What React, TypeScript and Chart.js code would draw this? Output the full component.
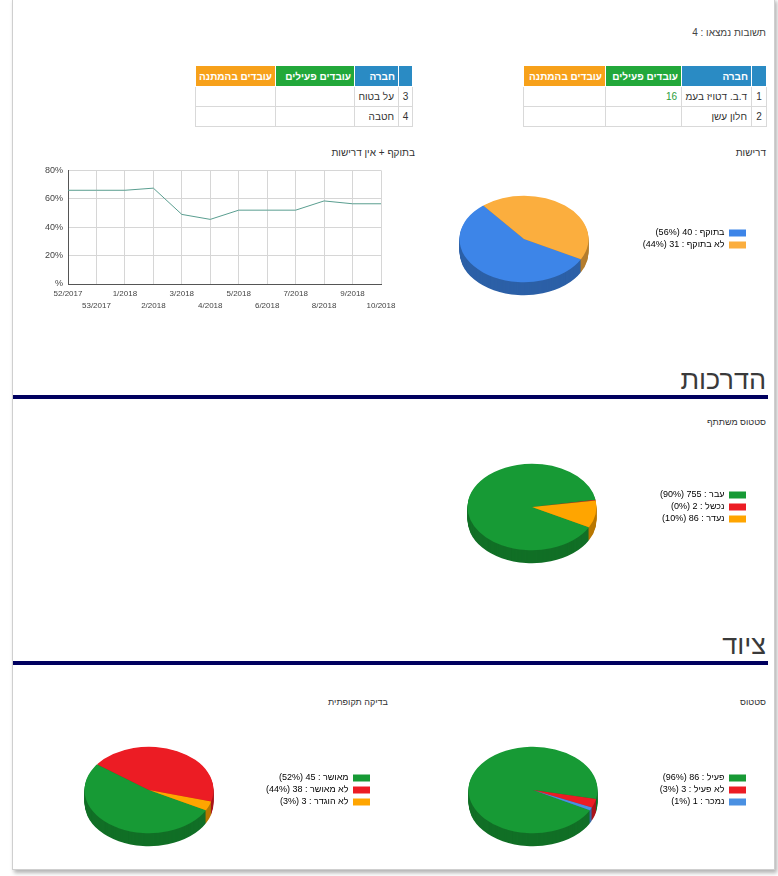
import React, { useEffect, useRef } from 'react';
import { Chart, registerables } from 'chart.js';

Chart.register(...registerables);

const FONT = '"Liberation Sans", Arial, "DejaVu Sans", sans-serif';

// ---------------- data ----------------
const answersFoundText = 'תשובות נמצאו : 4';
const headerLabels = ['חברה', 'עובדים פעילים', 'עובדים בהמתנה'];
const rightTableNums = [1, 2];
const rightTableCompanies = ['ד.ב. דטויז בעמ', 'חלון עשן'];
const rightTableActive = ['16', ''];
const rightTableWaiting = ['', ''];
const leftTableNums = [3, 4];
const leftTableCompanies = ['על בטוח', 'חטבה'];
const leftTableActive = ['', ''];
const leftTableWaiting = ['', ''];

const lineTitle = 'בתוקף + אין דרישות';
const weekLabels = ['52/2017', '53/2017', '1/2018', '2/2018', '3/2018', '4/2018', '5/2018', '6/2018', '7/2018', '8/2018', '9/2018', '10/2018'];
const validPercent = [66, 66, 66, 67.5, 49, 45.5, 52, 52, 52, 58.5, 56.5, 56.5];
const yTickLabels = ['%', '20%', '40%', '60%', '80%'];

const demandsTitle = 'דרישות';
const demandsLabels = ['בתוקף', 'לא בתוקף'];
const demandsValues = [40, 31];
const demandsColors = ['#3d85e8', '#fbae3e'];

const trainingHeading = 'הדרכות';
const trainingTitle = 'סטטוס משתתף';
const trainingLabels = ['עבר', 'נכשל', 'נעדר'];
const trainingValues = [755, 2, 86];
const trainingColors = ['#179a35', '#ec1c24', '#ffa500'];

const equipmentHeading = 'ציוד';
const statusTitle = 'סטטוס';
const statusLabels = ['פעיל', 'לא פעיל', 'נמכר'];
const statusValues = [86, 3, 1];
const statusColors = ['#179a35', '#ec1c24', '#4a90e2'];

const inspectionTitle = 'בדיקה תקופתית';
const inspectionLabels = ['מאושר', 'לא מאושר', 'לא הוגדר'];
const inspectionValues = [45, 38, 3];
const inspectionColors = ['#179a35', '#ec1c24', '#ffa500'];

// ---------------- helpers ----------------
const LEG_FS = 9;
const LEG_BOX = 17;
const LEG_BOXH = 7;
const LEG_PAD = 3;

function shade(hex: string, f: number) {
  const n = parseInt(hex.slice(1), 16);
  const r = Math.round(((n >> 16) & 255) * f);
  const g = Math.round(((n >> 8) & 255) * f);
  const b = Math.round((n & 255) * f);
  return `rgb(${r},${g},${b})`;
}

function measureMax(texts: string[], font: string) {
  const c = document.createElement('canvas').getContext('2d')!;
  c.font = font;
  return Math.max(...texts.map((t) => c.measureText(t).width));
}

const pie3d = {
  id: 'pie3d',
  beforeDatasetsDraw(chart: any, _args: any, opts: any) {
    const meta = chart.getDatasetMeta(0);
    const arcs = meta.data as any[];
    const ctx = chart.ctx as CanvasRenderingContext2D;
    ctx.save();
    if (!arcs.length) return;
    const cx = arcs[0].x;
    const cy = arcs[0].y;
    const k = opts.tilt;
    for (let d = opts.depth; d >= 1; d--) {
      arcs.forEach((arc: any, i: number) => {
        ctx.save();
        ctx.translate(cx, cy + d);
        ctx.scale(1, k);
        ctx.beginPath();
        ctx.moveTo(0, 0);
        ctx.arc(0, 0, arc.outerRadius, arc.startAngle, arc.endAngle);
        ctx.closePath();
        ctx.fillStyle = opts.sideColors[i];
        ctx.fill();
        ctx.restore();
      });
    }
    ctx.translate(cx, cy);
    ctx.scale(1, k);
    ctx.translate(-cx, -cy);
  },
  afterDatasetsDraw(chart: any) {
    chart.ctx.restore();
  },
};

type PieProps = {
  left: number;
  cy: number;
  cx: number;
  boxRight: number;
  labels: string[];
  values: number[];
  colors: string[];
};

function Pie3D({ left, cy, cx, boxRight, labels, values, colors }: PieProps) {
  const ref = useRef<HTMLCanvasElement>(null);
  const height = 140;
  const top = cy - height / 2;
  const total = values.reduce((a, b) => a + b, 0);
  const texts = labels.map((l, i) => `${l} : ${values[i]} (${Math.round((values[i] / total) * 100)}%)`);
  const textW = measureMax(texts, `${LEG_FS}px ${FONT}`);
  const legendRight = boxRight + LEG_PAD;
  const padR = 6;
  const width = Math.round(legendRight + padR - left);
  const legendWidth = LEG_PAD + LEG_BOX + LEG_FS / 2 + textW + 10;
  const legendLeftC = legendRight - left - legendWidth;
  const padL = Math.max(0, 2 * (cx - left) - legendLeftC);

  useEffect(() => {
    const chart = new Chart(ref.current!, {
      type: 'pie',
      data: {
        labels,
        datasets: [{ data: values, backgroundColor: colors, borderWidth: 0, clip: false } as any],
      },
      options: {
        responsive: false,
        animation: false,
        events: [],
        radius: 64.5,
        rotation: 118,
        layout: { padding: { left: padL, right: width - (legendRight - left), top: 0, bottom: 0 } },
        plugins: {
          legend: {
            position: 'right',
            rtl: true,
            textDirection: 'rtl',
            labels: {
              boxWidth: LEG_BOX,
              boxHeight: LEG_BOXH,
              padding: LEG_PAD,
              color: '#2a2a2a',
              font: { size: LEG_FS, family: FONT },
              generateLabels: () =>
                texts.map((t, i) => ({
                  text: t,
                  fillStyle: colors[i],
                  strokeStyle: colors[i],
                  lineWidth: 0,
                  hidden: false,
                  index: i,
                  datasetIndex: 0,
                })),
            },
          },
          tooltip: { enabled: false },
          pie3d: { tilt: 0.67, depth: 13, sideColors: colors.map((c) => shade(c, 0.72)) },
        } as any,
      } as any,
      plugins: [pie3d as any],
    });
    return () => chart.destroy();
  }, []);

  return (
    <canvas
      ref={ref}
      width={width}
      height={height}
      style={{ position: 'absolute', left, top, width, height }}
    />
  );
}

function LineChart() {
  const ref = useRef<HTMLCanvasElement>(null);
  useEffect(() => {
    const chart = new Chart(ref.current!, {
      type: 'line',
      data: {
        labels: weekLabels,
        datasets: [
          {
            data: validPercent,
            borderColor: '#5a9e90',
            borderWidth: 1,
            pointRadius: 0,
            tension: 0,
            fill: false,
          },
        ],
      },
      options: {
        responsive: false,
        animation: false,
        events: [],
        layout: { padding: { left: 0, right: 19, top: 10, bottom: 0 } },
        plugins: { legend: { display: false }, tooltip: { enabled: false } },
        scales: {
          x: {
            offset: false,
            grid: { color: '#d6d6d6', drawTicks: false },
            border: { color: '#555' },
            ticks: {
              autoSkip: false,
              maxRotation: 0,
              padding: 3,
              color: '#444',
              font: { size: 8, family: FONT, lineHeight: 1.6 },
              callback: (_v: any, i: number) => (i % 2 === 0 ? [weekLabels[i], ''] : ['', weekLabels[i]]),
            },
            afterFit: (s: any) => {
              s.height = 36;
            },
          },
          y: {
            min: 0,
            max: 80,
            grid: { color: '#d6d6d6', drawTicks: false },
            border: { color: '#555' },
            ticks: {
              stepSize: 20,
              padding: 5,
              color: '#444',
              font: { size: 9, family: FONT },
              callback: (_v: any, i: number) => yTickLabels[i],
            },
            afterFit: (s: any) => {
              s.width = 48;
            },
          },
        },
      } as any,
    });
    return () => chart.destroy();
  }, []);
  return (
    <canvas
      ref={ref}
      width={380}
      height={160}
      style={{ position: 'absolute', left: 20, top: 160, width: 380, height: 160 }}
    />
  );
}

const BLUE = '#2a8bc4';
const GREEN = '#22a83a';
const ORANGE = '#f7a11a';

type TableProps = {
  left: number;
  top: number;
  widths: number[];
  nums: number[];
  companies: string[];
  active: string[];
  waiting: string[];
};

function CompanyTable({ left, top, widths, nums, companies, active, waiting }: TableProps) {
  const total = widths.reduce((a, b) => a + b, 0);
  const th: React.CSSProperties = {
    color: '#fff',
    fontWeight: 'bold',
    fontSize: 10,
    textAlign: 'right',
    padding: '0 3px',
    border: '1px solid #fff',
    whiteSpace: 'nowrap',
    overflow: 'hidden',
  };
  const td: React.CSSProperties = {
    border: '1px solid #d9d9d9',
    padding: '0 4px',
    textAlign: 'right',
    whiteSpace: 'nowrap',
    overflow: 'hidden',
  };
  const headBgs = [BLUE, BLUE, GREEN, ORANGE];
  const headTexts = ['', ...headerLabels];
  return (
    <table
      style={{
        position: 'absolute',
        left,
        top,
        width: total,
        borderCollapse: 'collapse',
        tableLayout: 'fixed',
        direction: 'rtl',
        fontFamily: FONT,
        fontSize: 10,
        color: '#333',
      }}
    >
      <colgroup>
        {widths.map((w, i) => (
          <col key={i} style={{ width: w }} />
        ))}
      </colgroup>
      <thead>
        <tr style={{ height: 21 }}>
          {headTexts.map((t, i) => (
            <th key={i} style={{ ...th, background: headBgs[i] }}>
              {t}
            </th>
          ))}
        </tr>
      </thead>
      <tbody>
        {nums.map((n, i) => (
          <tr key={i} style={{ height: 20 }}>
            <td style={{ ...td, textAlign: 'center', padding: 0 }}>{n}</td>
            <td style={td}>{companies[i]}</td>
            <td style={{ ...td, color: '#2a9d3a' }}>{active[i]}</td>
            <td style={td}>{waiting[i]}</td>
          </tr>
        ))}
      </tbody>
    </table>
  );
}

function RText({ right, top, size, text, color = '#333' }: { right: number; top: number; size: number; text: string; color?: string }) {
  return (
    <div
      style={{
        position: 'absolute',
        right: 778 - right,
        top,
        fontSize: size,
        lineHeight: 1,
        color,
        whiteSpace: 'nowrap',
        direction: 'rtl',
        fontFamily: FONT,
      }}
    >
      {text}
    </div>
  );
}

export default function App() {
  return (
    <div
      style={{
        position: 'absolute',
        left: 0,
        top: 0,
        width: 778,
        height: 876,
        overflow: 'hidden',
        background: '#fff',
        fontFamily: FONT,
      }}
    >
      <div
        style={{
          position: 'absolute',
          left: 12,
          top: -2,
          width: 761,
          height: 870,
          border: '1px solid #cfcfcf',
          boxShadow: '2px 3px 4px rgba(0,0,0,0.3)',
          background: '#fff',
        }}
      />
      <RText right={766} top={28} size={10} text={answersFoundText} color="#444" />

      <CompanyTable
        left={523}
        top={65}
        widths={[15, 70, 76, 82]}
        nums={rightTableNums}
        companies={rightTableCompanies}
        active={rightTableActive}
        waiting={rightTableWaiting}
      />
      <CompanyTable
        left={195}
        top={65}
        widths={[14, 44, 79, 80]}
        nums={leftTableNums}
        companies={leftTableCompanies}
        active={leftTableActive}
        waiting={leftTableWaiting}
      />

      <RText right={766} top={148} size={10} text={demandsTitle} />
      <RText right={415} top={148} size={10} text={lineTitle} />
      <LineChart />
      <Pie3D left={380} cx={524} cy={239} boxRight={746} labels={demandsLabels} values={demandsValues} colors={demandsColors} />

      <RText right={766} top={367} size={27} text={trainingHeading} color="#3a3a3a" />
      <div style={{ position: 'absolute', left: 13, top: 395, width: 755, height: 4, background: '#00005f' }} />
      <RText right={766} top={418} size={9} text={trainingTitle} />
      <Pie3D left={380} cx={532} cy={507} boxRight={746} labels={trainingLabels} values={trainingValues} colors={trainingColors} />

      <RText right={766} top={632} size={27} text={equipmentHeading} color="#3a3a3a" />
      <div style={{ position: 'absolute', left: 13, top: 661, width: 755, height: 4, background: '#00005f' }} />
      <RText right={766} top={698} size={9} text={statusTitle} />
      <RText right={388} top={698} size={9} text={inspectionTitle} />
      <Pie3D left={380} cx={533} cy={790} boxRight={746} labels={statusLabels} values={statusValues} colors={statusColors} />
      <Pie3D left={10} cx={149} cy={790} boxRight={370} labels={inspectionLabels} values={inspectionValues} colors={inspectionColors} />
    </div>
  );
}
